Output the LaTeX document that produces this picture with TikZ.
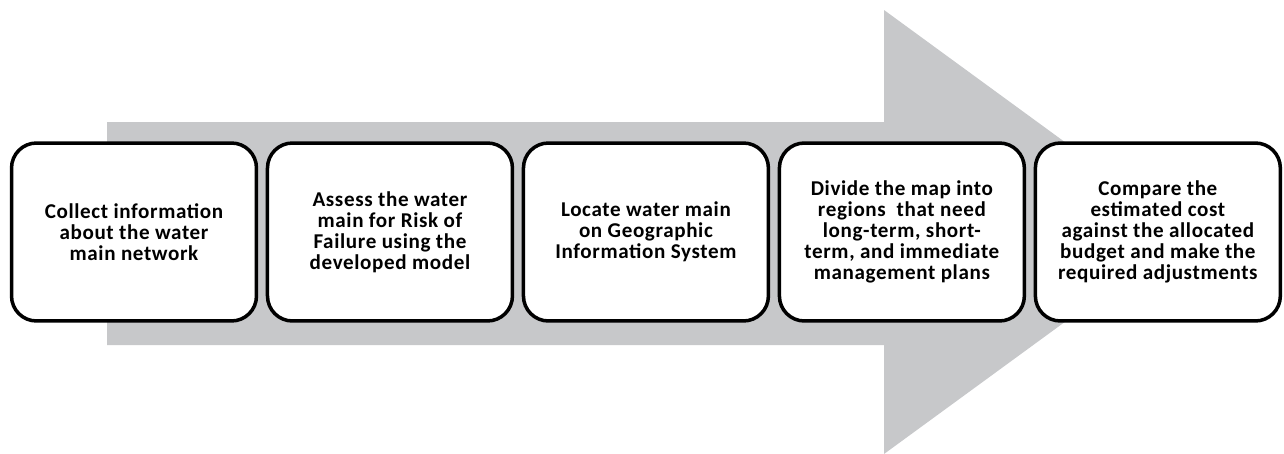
\documentclass[tikz,border=0pt]{standalone}
\usepackage{fontspec}
\setmainfont{Carlito}
\newfontfamily\stepfont[LetterSpace=3]{Carlito}
\usepackage{tikz}
\usetikzlibrary{positioning}
\definecolor{arrowgray}{RGB}{199,200,202}

\begin{document}
\begin{tikzpicture}[x=0.02cm,y=-0.02cm,
    stepbox/.style={draw=black,line width=2pt,fill=white,rounded corners=0.5cm,
      minimum width=4.9cm,minimum height=3.56cm,align=center,
      font=\stepfont\bfseries\fontsize{12}{12}\selectfont},
    node distance=0.15cm]
  \useasboundingbox (0,0) rectangle (1284,453);
  \fill[arrowgray] (107,122) -- (884,122) -- (884,10) -- (1188,232)
    -- (884,454) -- (884,345) -- (107,345) -- cycle;
  \node[stepbox] (collect) at (134,232) {Collect information\\about the water\\main network};
  \node[stepbox,right=of collect] (assess) {Assess the water\\main for Risk of\\Failure using the\\developed model};
  \node[stepbox,right=of assess] (locate) {Locate water main\\on Geographic\\Information System};
  \node[stepbox,right=of locate] (divide) {Divide the map into\\regions\ \ that need\\long-term, short-\\term, and immediate\\management plans};
  \node[stepbox,right=of divide] (compare) {Compare the\\estimated cost\\against the allocated\\budget and make the\\required adjustments};
\end{tikzpicture}
\end{document}
